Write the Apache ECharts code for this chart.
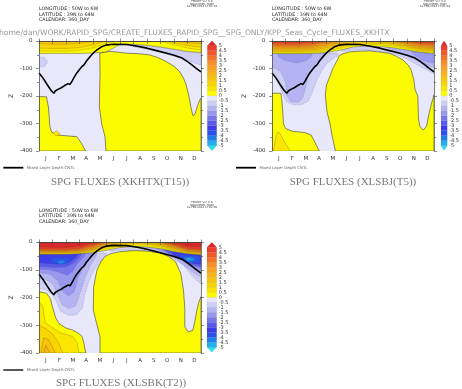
<!DOCTYPE html>
<html><head><meta charset="utf-8">
<script src="https://cdn.jsdelivr.net/npm/echarts@6/dist/echarts.min.js"></script>
<style>html,body{margin:0;padding:0;background:#fff}#c{width:462px;height:389px}</style>
</head><body><div id="c"></div>
<script>
// ---------------- data ----------------
const MONTHS = ['J','F','M','A','M','J','J','A','S','O','N','D'];
const MONTH_EDGES = [0,1,2,3,4,5,6,7,8,9,10,11,12];
const COLORBAR_TICKS = [-5,-4.5,-4,-3.5,-3,-2.5,-2,-1.5,-1,-0.5,0,0.5,1,1.5,2,2.5,3,3.5,4,4.5,5];
const TITLES = ['SPG FLUXES (XKHTX(T15))','SPG FLUXES (XLSBJ(T5))','SPG FLUXES (XLSBK(T2))'];
const HEADER = ['LONGITUDE : 50W to 6W','LATITUDE : 39N to 64N','CALENDAR: 360_DAY'];
const FERRET_STAMPS = ['12-FEB-2014 17:01:34','12-FEB-2014 17:01:44','12-FEB-2014 17:02:00'];
const PATH_TEXT = 'home/dan/WORK/RAPID_SPG/CREATE_FLUXES_RAPID_SPG__SPG_ONLY/KPP_Seas_Cycle_FLUXES_XKHTX';
const LEGEND_TEXT = 'Mixed Layer Depth CNTL';

// Mixed layer depth (month, depth m)
const MLD_CNTL = [[0,-116],[0.3,-135],[0.6,-158],[0.9,-180],[1.1,-190],[1.2,-182],[1.3,-188],[1.4,-176],[1.5,-182],[1.65,-170],[1.75,-176],[1.9,-162],[2.0,-166],[2.15,-155],[2.3,-158],[2.45,-146],[2.6,-132],[2.8,-116],[3.0,-104],[3.2,-92],[3.35,-86],[3.5,-74],[3.7,-62],[3.9,-50],[4.1,-40],[4.3,-32],[4.6,-22],[4.95,-15],[5.5,-12],[6.5,-13],[7.3,-19],[8.0,-26],[8.7,-35],[9.4,-44],[10.0,-52],[10.6,-62],[11.0,-75],[11.3,-86],[11.6,-98],[12,-112]];

// ----- panel 1 (XKHTX) -----
const P1_BAND_LEVELS = [0,0.5,1,1.5];
const P1_BAND_DEPTHS = [
 [-45,-45,-45,-45,-44,-40,-12,-12,-16,-22,-30,-38,-42],
 [-36,-37,-37,-34,-25,-8,0,0,0,-2,-14,-26,-32],
 [-26,-27,-27,-24,-14,0,0,0,0,0,-6,-17,-22],
 [-10,-12,-12,-8,-2,0,0,0,0,0,0,-6,-9]
];
const P1_NEG = [
 [-0.5,[[7,-13],[8,-17],[9,-23],[10,-31],[11,-39],[12,-43],[12,-88],[11.5,-80],[11,-70],[10,-55],[9,-42],[8,-30],[7,-22]]],
 [-0.5,[[0,-58],[0.4,-60],[0.65,-75],[0.45,-92],[0,-96]]]
];
const P1_POS = [
 [0,[[4.5,-44],[4.9,-41],[5.2,-38],[5.8,-40],[6.4,-44],[7.3,-46],[8.15,-50],[8.8,-60],[9.4,-74],[10.0,-92],[10.4,-110],[10.7,-135],[10.9,-159],[11.1,-200],[11.25,-240],[11.4,-272],[11.55,-266],[11.75,-235],[11.9,-215],[12,-208],[12,-400],[4.96,-400],[4.89,-348],[4.64,-300],[4.47,-239],[4.52,-118]]],
 [0,[[0,-202],[0.55,-203],[0.7,-240],[0.8,-310],[0.95,-332],[1.4,-342],[2.8,-348],[3.15,-372],[3.4,-396],[3.5,-400],[0,-400]]],
 [0.5,[[1.05,-336],[1.3,-326],[1.55,-339],[1.25,-345]]]
];

// ----- panel 2 (XLSBJ) -----
const P2_BAND_LEVELS = [0,0.5,1,1.5,2,2.5,3,3.5,4,4.5];
const P2_BAND_DEPTHS = [
 [-46,-46,-46,-45,-42,-34,-22,-18,-20,-25,-33,-41,-45],
 [-42,-42,-42,-41,-37,-27,-15,-12,-14,-19,-28,-37,-41],
 [-38,-38,-38,-37,-31,-20,-9,-7,-9,-13,-23,-33,-37],
 [-34,-34,-34,-33,-25,-13,-4,-2,-4,-8,-19,-29,-33],
 [-30,-30,-30,-29,-19,-7,0,0,0,-3,-15,-25,-29],
 [-26,-26,-26,-24,-13,-3,0,0,0,0,-11,-21,-25],
 [-21,-22,-22,-19,-8,0,0,0,0,0,-7,-17,-20],
 [-16,-17,-17,-14,-4,0,0,0,0,0,-4,-13,-15],
 [-11,-12,-12,-9,-1,0,0,0,0,0,-1,-9,-10],
 [-6,-7,-7,-4,0,0,0,0,0,0,0,-5,-5]
];
const P2_NEG = [
 [-0.5,[[0,-44],[4.9,-44],[4.9,-52],[4.4,-68],[4.0,-85],[3.6,-115],[3.3,-145],[3.0,-185],[2.7,-218],[2.2,-232],[1.6,-232],[1.1,-222],[0.9,-205],[0.6,-168],[0.25,-125],[0,-112]]],
 [-0.5,[[5.0,-28],[6,-20],[7,-17],[8,-19],[9,-24],[10,-32],[11,-40],[12,-44],[12,-120],[11.5,-106],[11,-94],[10.5,-80],[10,-66],[9.5,-55],[9,-46],[8,-38],[7,-33],[6,-33],[5.3,-38]]],
 [-1,[[0,-44],[4.1,-44],[3.9,-55],[3.5,-78],[3.0,-100],[2.7,-130],[2.5,-165],[2.3,-205],[2.0,-222],[1.4,-222],[1.1,-200],[1.0,-150],[0.7,-115],[0.3,-100],[0,-96]]],
 [-1,[[8.5,-22],[9.5,-28],[10.5,-37],[11.5,-43],[12,-45],[12,-95],[11.5,-88],[11,-78],[10.5,-65],[10,-54],[9.5,-44],[9,-35]]],
 [-1.5,[[0.4,-44],[3.0,-44],[2.9,-58],[2.5,-72],[1.8,-80],[1.0,-72],[0.5,-58]]],
 [-1.5,[[10.3,-38],[11.5,-44],[12,-46],[12,-80],[11.5,-75],[11,-66],[10.6,-52]]]
];
const P2_POS = [
 [0,[[4.5,-100],[4.78,-75],[5.0,-52],[5.4,-44],[5.8,-39],[6.5,-37],[7.25,-36],[8.0,-40],[8.7,-45],[9.2,-55],[9.7,-69],[10.1,-88],[10.3,-105],[10.5,-140],[10.6,-178],[10.8,-200],[10.85,-280],[10.95,-310],[11.2,-324],[11.45,-310],[11.6,-270],[11.8,-230],[12,-196],[12,-400],[4.7,-400],[4.44,-342],[4.32,-305],[4.07,-257],[3.95,-196],[4.03,-160],[4.28,-130]]],
 [0,[[0,-190],[0.65,-190],[0.74,-220],[0.8,-260],[0.85,-300],[1.0,-318],[1.5,-328],[2.44,-333],[2.6,-336],[2.9,-342],[3.2,-370],[3.46,-396],[3.5,-400],[0,-400]]],
 [0.5,[[0.1,-400],[0.3,-345],[0.44,-330],[0.6,-338],[0.9,-365],[1.36,-400]]]
];

// ----- panel 3 (XLSBK) -----
const P3_BAND_LEVELS = [0,0.5,1,1.5,2,2.5,3,3.5,4,4.5,5];
const P3_BAND_DEPTHS = [
 [-44,-44,-44,-42,-38,-30,-20,-16,-18,-24,-34,-42,-46],
 [-42,-42,-42,-40,-35,-25,-14,-10,-12,-19,-31,-40,-44],
 [-40,-40,-40,-38,-32,-20,-8,-5,-7,-14,-28,-38,-42],
 [-38,-38,-38,-36,-29,-15,-4,-2,-3,-10,-25,-36,-40],
 [-36,-36,-36,-34,-26,-11,-1,0,0,-6,-22,-34,-38],
 [-34,-34,-34,-32,-23,-7,0,0,0,-3,-19,-32,-36],
 [-32,-33,-33,-30,-20,-4,0,0,0,0,-16,-30,-34],
 [-30,-31,-31,-28,-16,-2,0,0,0,0,-13,-28,-32],
 [-28,-29,-29,-25,-12,0,0,0,0,0,-10,-25,-29],
 [-25,-26,-26,-22,-8,0,0,0,0,0,-7,-22,-26],
 [-18,-20,-20,-15,-3,0,0,0,0,0,-3,-15,-18]
];
const P3_NEG = [
 [-0.5,[[0,-40],[5,-40],[4.9,-55],[4.5,-72],[4.1,-100],[3.7,-140],[3.4,-190],[3.2,-240],[2.8,-262],[2.2,-265],[1.6,-250],[1.3,-215],[1.0,-188],[0.5,-172],[0,-166]]],
 [-0.5,[[5,-20],[6,-15],[7,-14],[8,-17],[9,-24],[10,-34],[11,-42],[12,-46],[12,-150],[11.7,-140],[11.3,-120],[11,-100],[10.6,-80],[10,-60],[9.5,-50],[9,-42],[8,-34],[7,-30],[6,-30],[5.3,-34]]],
 [-1,[[0,-40],[4.3,-40],[4.2,-55],[3.8,-85],[3.4,-130],[3.0,-190],[2.7,-232],[2.2,-240],[1.7,-225],[1.4,-190],[1.0,-150],[0.5,-135],[0,-130]]],
 [-1,[[7.5,-15],[8.5,-20],[9.5,-28],[10.5,-38],[11.5,-44],[12,-46],[12,-125],[11.5,-112],[11,-95],[10.5,-75],[10,-58],[9.5,-46],[9,-38],[8.5,-32],[7.8,-26]]],
 [-1.5,[[0,-40],[3.9,-40],[3.7,-55],[3.3,-85],[2.9,-130],[2.6,-180],[2.2,-195],[1.8,-180],[1.4,-140],[0.8,-115],[0,-110]]],
 [-1.5,[[8.5,-18],[9.5,-26],[10.5,-36],[11.5,-43],[12,-46],[12,-108],[11.5,-98],[11,-82],[10.5,-64],[10,-50],[9.5,-40],[9,-32]]],
 [-2,[[0,-40],[3.5,-40],[3.3,-55],[2.8,-80],[2.5,-105],[2.1,-120],[1.5,-110],[0.8,-100],[0,-98]]],
 [-2,[[9,-22],[10,-32],[11,-40],[12,-45],[12,-95],[11.3,-85],[10.8,-70],[10.2,-55],[9.6,-42]]],
 [-2.5,[[0,-40],[3.2,-40],[3.0,-55],[2.6,-75],[2.0,-90],[1.3,-92],[0.6,-90],[0,-88]]],
 [-2.5,[[9.3,-28],[10,-34],[11,-42],[12,-46],[12,-88],[11.3,-80],[10.8,-68],[10.2,-55],[9.7,-42]]],
 [-3,[[0,-44],[2.9,-44],[2.7,-58],[2.2,-75],[1.5,-80],[0.8,-78],[0,-75]]],
 [-3,[[9.8,-36],[10.5,-40],[11.5,-45],[12,-48],[12,-80],[11.5,-78],[11,-70],[10.5,-58],[10,-48]]],
 [-3.5,[[0.9,-56],[2.3,-58],[2.4,-70],[1.8,-79],[1.0,-77]]],
 [-3.5,[[10.4,-46],[11.9,-50],[11.9,-76],[11,-74],[10.5,-62]]],
 [-4,[[1.3,-68],[1.8,-66],[2.0,-75],[1.5,-80]]],
 [-4,[[10.7,-55],[11.4,-54],[11.6,-68],[11,-72]]],
 [-4.5,[[10.9,-59],[11.2,-58],[11.3,-65],[11.0,-67]]]
];
const P3_POS = [
 [0,[[4.3,-100],[4.6,-70],[4.9,-52],[5.3,-42],[6.0,-35],[7.0,-31],[8.1,-33],[9.0,-40],[9.6,-52],[10.1,-70],[10.5,-113],[10.7,-173],[10.8,-240],[10.8,-306],[11.06,-324],[11.4,-318],[11.55,-285],[11.7,-245],[11.85,-215],[12,-197],[12,-400],[4.52,-400],[4.52,-342],[4.27,-294],[4.02,-245],[4.05,-161]]],
 [0,[[0,-179],[0.57,-185],[0.85,-205],[1.0,-235],[1.25,-275],[1.5,-295],[2.0,-310],[2.47,-317],[2.9,-328],[3.2,-341],[3.35,-370],[3.46,-400],[0,-400]]],
 [0.5,[[0,-215],[0.3,-235],[0.45,-290],[0.9,-305],[1.6,-328],[2.5,-340],[2.85,-365],[2.95,-400],[0,-400]]],
 [1,[[0,-300],[0.5,-312],[1.0,-332],[1.45,-362],[1.75,-400],[0,-400]]],
 [1.5,[[0.15,-400],[0.35,-345],[0.7,-352],[1.2,-400]]],
 [2,[[0.35,-400],[0.5,-372],[0.8,-400]]]
];

// ---------------- styles ----------------
const COLORS = ['#2ce0f0','#22b0ec','#2080e8','#2a52e8','#3c3ce8','#5a5ae8','#7878ea','#9898ee','#b4b4f2','#cfcff6','#e8e8fa',
  '#fcfc00','#fae600','#f8d400','#f8c410','#f8b418','#f8a420','#f69028','#f47428','#f05a2a','#ec3e2c','#d8282c'];
const PANEL_GRIDS = [{left:39,top:41,width:162,height:110},{left:272,top:41,width:162,height:110},{left:39,top:242,width:162,height:111}];
const CB_GRIDS = [{left:207.3,top:40.7,width:9.4,height:110},{left:441,top:40.7,width:9.4,height:110},{left:207,top:242.3,width:9.7,height:110}];
const PANELS = [
  {levels:P1_BAND_LEVELS, depths:P1_BAND_DEPTHS, neg:P1_NEG, pos:P1_POS},
  {levels:P2_BAND_LEVELS, depths:P2_BAND_DEPTHS, neg:P2_NEG, pos:P2_POS},
  {levels:P3_BAND_LEVELS, depths:P3_BAND_DEPTHS, neg:P3_NEG, pos:P3_POS}
];

function buildRegions(p){
  const regs = [{bin:10, pts:[[0,0],[12,0],[12,-400],[0,-400]], stroke:null, lw:0}];
  p.neg.forEach(([lvl,pts]) => regs.push({bin:Math.round(2*lvl+10), pts, stroke:'rgba(70,70,130,0.4)', lw:0.5, dash:[2,1]}));
  p.levels.forEach((lvl,k) => {
    const d = p.depths[k]; const pts = [[0,0],[12,0]];
    for (let m = 12; m >= 0; m--) pts.push([MONTH_EDGES[m], d[m]]);
    regs.push({bin:Math.round(2*lvl+11), pts, stroke: k===0 ? 'rgba(60,60,60,0.8)' : 'rgba(110,70,0,0.45)', lw:0.5});
  });
  p.pos.forEach(([lvl,pts]) => regs.push({bin:Math.round(2*lvl+11), pts, stroke: lvl===0 ? 'rgba(60,60,60,0.85)' : 'rgba(110,70,0,0.55)', lw: lvl===0 ? 0.7 : 0.5}));
  return regs;
}

const FONT = 'DejaVu Sans';
const grid = [...PANEL_GRIDS, ...CB_GRIDS].map(g => Object.assign({containLabel:false, show:false}, g));
const xAxis = [], yAxis = [], series = [];
const tickStyle = {color:'#444', width:0.6};
PANELS.forEach((p,i) => {
  xAxis.push({type:'value', gridIndex:i, min:0, max:12, show:false});
  xAxis.push({type:'category', gridIndex:i, data:MONTHS, position:'bottom', boundaryGap:true, z:10,
    axisLine:{show:true, lineStyle:{color:'#444', width:0.7}}, axisTick:{show:true, length:3, lineStyle:tickStyle, interval:0},
    axisLabel:{interval:0, fontSize:5.5, color:'#333', margin:4.5, fontFamily:FONT}, splitLine:{show:false}});
  xAxis.push({type:'category', gridIndex:i, data:MONTHS, position:'top', boundaryGap:true, z:10,
    axisLine:{show:true, lineStyle:{color:'#444', width:0.7}}, axisTick:{show:true, length:2.5, lineStyle:tickStyle, interval:0},
    axisLabel:{show:false}, splitLine:{show:false}});
  yAxis.push({type:'value', gridIndex:i, min:-400, max:0, interval:100, position:'left', z:10,
    name:'Z', nameLocation:'middle', nameGap:25, nameRotate:90, nameTextStyle:{fontSize:6, color:'#333', fontFamily:FONT},
    axisLine:{show:true, lineStyle:{color:'#444', width:0.7}}, axisTick:{show:true, length:3, lineStyle:tickStyle},
    minorTick:{show:true, splitNumber:2, length:2, lineStyle:tickStyle},
    axisLabel:{fontSize:5.5, color:'#333', margin:6.5, fontFamily:FONT}, splitLine:{show:false}, minorSplitLine:{show:false}});
  yAxis.push({type:'value', gridIndex:i, min:-400, max:0, interval:100, position:'right', z:10,
    axisLine:{show:true, lineStyle:{color:'#444', width:0.7}}, axisTick:{show:true, length:3, lineStyle:tickStyle},
    minorTick:{show:true, splitNumber:2, length:2, lineStyle:tickStyle},
    axisLabel:{show:false}, splitLine:{show:false}});
  const regs = buildRegions(p);
  series.push({type:'custom', xAxisIndex:3*i, yAxisIndex:2*i, clip:true, silent:true, z:2,
    data: regs.map((r,k) => [r.pts[0][0], r.pts[0][1], k]), encode:{x:0, y:1},
    renderItem:(params, api) => {
      const r = regs[params.dataIndex];
      return {type:'polygon', shape:{points:r.pts.map(q => api.coord(q))},
        style:{fill:COLORS[r.bin], stroke:r.stroke, lineWidth:r.lw, lineDash:r.dash || null}};
    }});
  series.push({type:'line', xAxisIndex:3*i, yAxisIndex:2*i, data:MLD_CNTL, symbol:'none', silent:true, z:5,
    lineStyle:{color:'#000', width:1.6}});
});
CB_GRIDS.forEach((g,i) => {
  const gi = 3 + i;
  xAxis.push({type:'value', gridIndex:gi, min:0, max:1, show:false});
  yAxis.push({type:'value', gridIndex:gi, min:-5.5, max:5.5, interval:0.5, position:'right',
    axisLine:{show:false}, axisTick:{show:false}, splitLine:{show:false},
    axisLabel:{fontSize:5, color:'#333', margin:2, fontFamily:FONT, formatter: v => (Math.abs(v) > 5.01 ? '' : String(v))}});
  const bins = COLORS.map((c,k) => [0.5, k === 0 ? -5.25 : (k === 21 ? 5.25 : (COLORBAR_TICKS[k-1] + COLORBAR_TICKS[k]) / 2), k]);
  series.push({type:'custom', xAxisIndex:9+i, yAxisIndex:6+i, silent:true, data:bins, encode:{x:0,y:1},
    renderItem:(params, api) => {
      const k = params.dataIndex; let pts;
      if (k === 0) pts = [[0,-5],[1,-5],[0.5,-5.5]];
      else if (k === 21) pts = [[0,5],[1,5],[0.5,5.5]];
      else { const lo = COLORBAR_TICKS[k-1], hi = COLORBAR_TICKS[k]; pts = [[0,lo],[1,lo],[1,hi],[0,hi]]; }
      return {type:'polygon', shape:{points:pts.map(q => api.coord(q))}, style:{fill:COLORS[k], stroke:'rgba(0,0,0,0.18)', lineWidth:0.3}};
    }});
});

// ---------------- texts ----------------
function txt(s, x, y, size, color, align, family){
  return {type:'text', silent:true, z:100, style:{text:s, x, y, fill:color, fontSize:size, fontFamily:family || FONT,
    align:align || 'left', textAlign:align || 'left', verticalAlign:'middle', textVerticalAlign:'middle'}};
}
const graphic = [];
const HEAD_POS = [[39,9],[272,9],[39,210.7]];
const FER_POS = [[202,1.3],[435,1.3],[202,202.3]];
const TITLE_POS = [[120,182],[353,182],[121,383.3]];
const LEG_POS = [[3.3,167.7],[236,167.7],[3.3,370]];
for (let i = 0; i < 3; i++){
  HEADER.forEach((h,k) => graphic.push(txt(h, HEAD_POS[i][0], HEAD_POS[i][1] + 5.4*k, 4.8, '#222')));
  ['FERRET Ver. 6.8','NOAA/PMEL TMAP',FERRET_STAMPS[i]].forEach((h,k) =>
    graphic.push(txt(h, FER_POS[i][0], FER_POS[i][1] + 2.7*k, 2.7, '#333', 'center')));
  graphic.push(txt(TITLES[i], TITLE_POS[i][0], TITLE_POS[i][1], 11, '#777', 'center', 'Liberation Serif'));
  graphic.push({type:'line', silent:true, z:100, shape:{x1:LEG_POS[i][0], y1:LEG_POS[i][1], x2:LEG_POS[i][0]+20, y2:LEG_POS[i][1]},
    style:{stroke: i === 2 ? '#444' : '#000', lineWidth:1.8}});
  graphic.push(txt(LEGEND_TEXT, LEG_POS[i][0] + 23.4, LEG_POS[i][1], 3.9, '#666'));
}
graphic.push(txt(PATH_TEXT, -1, 33, 7.6, '#999'));

const chart = echarts.init(document.getElementById('c'), null, {renderer:'canvas'});
chart.setOption({animation:false, backgroundColor:'#fff', grid, xAxis, yAxis, series, graphic});
</script></body></html>
